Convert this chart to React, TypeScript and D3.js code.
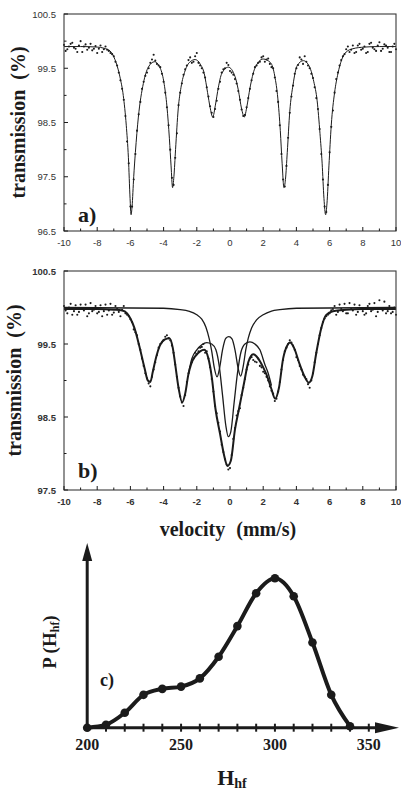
import * as d3 from 'd3'

// channel grid for the measured points (even and odd channels)
const VEL_START = -10
const VEL_MID_START = -9.9
const VEL_STEP = 0.2

const VEL_TICKS = [-10, -8, -6, -4, -2, 0, 2, 4, 6, 8, 10]
const VEL_MINOR = [-9, -7, -5, -3, -1, 1, 3, 5, 7, 9]

// a) sextet spectrum
const A_Y_TICKS = [96.5, 97.5, 98.5, 99.5, 100.5]
const A_Y_MINOR = [97, 98, 99, 100]
const A_FIT_V = [-10, -9, -8, -7.6, -7.23, -6.93, -6.63, -6.43, -6.25, -6.12, -6.02, -5.96, -5.9, -5.8, -5.7, -5.52, -5.22, -4.92, -4.55, -4.2, -3.96, -3.8, -3.65, -3.55, -3.46, -3.38, -3.28, -3.12, -2.95, -2.71, -2.4, -2.1, -1.8, -1.55, -1.35, -1.2, -1.04, -0.88, -0.7, -0.5, -0.1, 0.3, 0.5, 0.7, 0.86, 1.02, 1.2, 1.5, 2.0, 2.45, 2.7, 2.88, 3.03, 3.14, 3.25, 3.34, 3.45, 3.6, 3.8, 4.05, 4.42, 4.8, 5.05, 5.25, 5.42, 5.55, 5.66, 5.76, 5.84, 5.96, 6.1, 6.3, 6.5, 6.73, 7.0, 7.4, 8.1, 9, 10]
const A_FIT_T = [99.9, 99.9, 99.89, 99.87, 99.82, 99.66, 99.34, 99.0, 98.45, 97.85, 97.1, 96.8, 96.95, 97.5, 97.95, 98.6, 99.22, 99.52, 99.62, 99.5, 99.2, 98.8, 98.2, 97.7, 97.3, 97.5, 98.0, 98.75, 99.15, 99.45, 99.62, 99.66, 99.58, 99.4, 99.05, 98.78, 98.6, 98.82, 99.15, 99.4, 99.52, 99.35, 99.1, 98.75, 98.6, 98.8, 99.13, 99.5, 99.67, 99.6, 99.35, 98.95, 98.35, 97.75, 97.3, 97.45, 97.95, 98.7, 99.2, 99.55, 99.64, 99.52, 99.25, 98.9, 98.3, 97.75, 97.1, 96.8, 97.0, 97.7, 98.45, 99.05, 99.4, 99.66, 99.8, 99.86, 99.89, 99.9, 99.9]
const A_DOTS = [
  99.93, 99.85, 99.95, 99.88, 99.80, 100.00, 99.90, 99.84, 99.95, 99.86,
  99.78, 99.92, 99.85, 99.84, 99.78, 99.72, 99.55, 99.28, 98.92, 98.15,
  96.95, 97.45, 98.35, 98.88, 99.25, 99.42, 99.60, 99.75, 99.58, 99.52,
  99.25, 98.78, 98.0, 97.35, 98.3, 99.05, 99.38, 99.55, 99.70, 99.62,
  99.78, 99.55, 99.42, 99.15, 98.80, 98.60, 98.90, 99.25, 99.48, 99.60,
  99.45, 99.38, 99.22, 98.92, 98.62, 98.78, 99.12, 99.40, 99.55, 99.62,
  99.72, 99.66, 99.58, 99.50, 99.08, 98.45, 97.45, 97.70, 98.68, 99.18,
  99.50, 99.70, 99.58, 99.62, 99.50, 99.32, 98.95, 98.38, 97.45, 96.85,
  97.95, 98.72, 99.30, 99.55, 99.72, 99.85, 99.80, 99.92, 99.80, 99.95,
  99.86, 99.78, 99.95, 99.88, 99.82, 99.98, 99.86, 99.92, 99.80, 99.90,
  99.85
]
const A_DOTS_MID = [
  99.82, 99.90, 99.97, 99.86, 99.92, 99.80, 99.94, 99.88, 99.83, 99.91,
  99.86, 99.80, 99.90, 99.82, 99.76, 99.62, 99.42, 99.12, 98.62, 97.75,
  96.95, 97.92, 98.65, 99.12, 99.36, 99.50, 99.66, 99.64, 99.55, 99.40,
  99.05, 98.45, 97.48, 97.85, 98.82, 99.22, 99.48, 99.65, 99.60, 99.72,
  99.60, 99.50, 99.33, 98.98, 98.68, 98.75, 99.12, 99.42, 99.50, 99.56,
  99.42, 99.30, 99.08, 98.74, 98.64, 98.95, 99.28, 99.52, 99.60, 99.70,
  99.62, 99.68, 99.52, 99.33, 98.88, 97.92, 97.32, 98.22, 98.98, 99.40,
  99.56, 99.66, 99.72, 99.55, 99.40, 99.15, 98.75, 97.92, 96.95, 97.35,
  98.42, 99.05, 99.42, 99.65, 99.76, 99.90, 99.84, 99.78, 99.92, 99.84,
  99.90, 99.80, 99.97, 99.85, 99.92, 99.82, 99.94, 99.88, 99.80, 99.95
]

// b) distribution + doublet
const B_Y_TICKS = [97.5, 98.5, 99.5, 100.5]
const B_Y_MINOR = [98, 99, 100]
const B_FIT_V = [-10, -8, -7, -6.5, -6.2, -6.0, -5.76, -5.46, -5.15, -4.95, -4.8, -4.65, -4.45, -4.24, -3.95, -3.65, -3.45, -3.3, -3.1, -2.88, -2.7, -2.51, -2.3, -2.1, -1.8, -1.55, -1.3, -1.1, -0.88, -0.6, -0.35, -0.15, 0.05, 0.3, 0.55, 0.85, 1.1, 1.4, 1.7, 2.0, 2.2, 2.5, 2.72, 2.95, 3.2, 3.45, 3.62, 3.85, 4.2, 4.5, 4.75, 4.95, 5.2, 5.5, 5.8, 6.2, 7, 8, 10]
const B_FIT_T = [99.98, 99.98, 99.97, 99.96, 99.92, 99.85, 99.72, 99.47, 99.17, 99.0, 98.98, 99.12, 99.32, 99.47, 99.56, 99.58, 99.45, 99.22, 98.9, 98.7, 98.82, 99.08, 99.25, 99.33, 99.4, 99.42, 99.3, 99.05, 98.62, 98.27, 97.97, 97.83, 97.9, 98.33, 98.62, 98.97, 99.25, 99.36, 99.3, 99.18, 99.08, 98.88, 98.75, 98.9, 99.3, 99.48, 99.52, 99.45, 99.22, 99.05, 98.97, 99.05, 99.38, 99.72, 99.9, 99.95, 99.97, 99.98, 99.98]
const B_SEXTET_V = [-2.5, -2.3, -2.0, -1.7, -1.4, -1.1, -0.85, -0.65, -0.45, -0.25, -0.1, 0.05, 0.25, 0.45, 0.65, 0.9, 1.2, 1.5, 1.8, 2.1, 2.3, 2.5]
const B_SEXTET_T = [99.1, 99.3, 99.42, 99.49, 99.52, 99.5, 99.42, 99.2, 98.8, 98.38, 98.23, 98.3, 98.7, 99.1, 99.38, 99.5, 99.53, 99.5, 99.42, 99.22, 99.1, 98.93]
const B_DOUBLET_V = [-10, -4, -3, -2.5, -2.0, -1.7, -1.45, -1.25, -1.1, -0.95, -0.78, -0.62, -0.45, -0.25, -0.07, 0.12, 0.3, 0.48, 0.64, 0.8, 0.95, 1.1, 1.3, 1.6, 2.0, 2.5, 3.0, 4.0, 10]
const B_DOUBLET_T = [100.0, 99.99, 99.97, 99.95, 99.9, 99.84, 99.73, 99.57, 99.4, 99.18, 99.05, 99.18, 99.42, 99.58, 99.6, 99.57, 99.42, 99.18, 99.06, 99.2, 99.42, 99.58, 99.72, 99.83, 99.9, 99.95, 99.97, 99.99, 100.0]
const B_DOTS = [
  100.02, 99.92, 100.05, 99.95, 99.90, 100.04, 99.96, 99.88, 100.06, 99.97,
  99.92, 100.03, 99.95, 99.90, 100.05, 99.93, 99.98, 99.88, 100.02, 99.90,
  99.84, 99.70, 99.62, 99.42, 99.20, 99.03, 98.92, 99.15, 99.35, 99.50,
  99.55, 99.62, 99.55, 99.38, 99.05, 98.78, 98.65, 98.98, 99.18, 99.30,
  99.36, 99.45, 99.50, 99.40, 99.18, 98.85, 98.55, 98.30, 98.02, 97.85,
  97.80, 98.20, 98.52, 98.62, 98.90, 99.15, 99.30, 99.28, 99.25, 99.20,
  99.12, 99.05, 98.92, 98.82, 98.75, 98.98, 99.28, 99.45, 99.55, 99.48,
  99.32, 99.20, 99.08, 99.02, 98.90, 99.10, 99.38, 99.62, 99.80, 99.88,
  99.92, 99.98, 99.90, 100.04, 99.95, 99.92, 100.06, 99.96, 99.90, 100.03,
  99.95, 99.92, 100.05, 99.97, 99.88, 100.10, 99.96, 99.92, 100.02, 99.94,
  99.90
]
const B_DOTS_MID = [
  99.96, 100.00, 99.90, 100.03, 99.94, 99.98, 100.04, 99.92, 99.95, 100.02,
  99.94, 99.88, 100.04, 99.96, 99.90, 100.02, 99.94, 99.97, 99.92, 99.88,
  99.80, 99.66, 99.50, 99.30, 99.10, 98.96, 99.05, 99.25, 99.45, 99.52,
  99.60, 99.58, 99.48, 99.22, 98.90, 98.70, 98.80, 99.10, 99.25, 99.38,
  99.40, 99.46, 99.38, 99.30, 99.02, 98.65, 98.42, 98.12, 97.92, 97.78,
  97.98, 98.35, 98.58, 98.80, 99.02, 99.22, 99.32, 99.26, 99.30, 99.18,
  99.10, 99.00, 98.86, 98.72, 98.85, 99.15, 99.40, 99.50, 99.52, 99.42,
  99.28, 99.15, 99.05, 98.95, 99.00, 99.25, 99.50, 99.72, 99.85, 99.90,
  99.96, 100.02, 99.94, 99.98, 100.05, 99.92, 99.98, 100.04, 99.94, 99.98,
  99.90, 100.02, 99.95, 100.06, 99.94, 99.98, 100.08, 99.95, 99.92, 100.00
]

// c) hyperfine field distribution
const H_FIELD = [200, 210, 220, 230, 240, 250, 260, 270, 280, 290, 300, 310, 320, 330, 340]
const P_H = [0, 2, 10, 22, 26, 27.5, 33, 47.5, 68, 90, 100, 88, 57, 22, 1]
const H_LABELS = [200, 250, 300, 350]
const H_TICKS = [210, 220, 230, 240, 250, 260, 270, 280, 290, 300, 310, 320, 330, 340, 350]

const INK = '#1b1b1b'
const SERIF = '"Liberation Serif", "Times New Roman", serif'
const SANS = '"Liberation Sans", Arial, sans-serif'

const xVel = d3.scaleLinear().domain([-10, 10]).range([64, 396])

function pathOf(vs: number[], ts: number[], y: d3.ScaleLinear<number, number>) {
  return d3.line<number>()
    .x((_, i) => xVel(vs[i]))
    .y((_, i) => y(ts[i]))
    .curve(d3.curveMonotoneX)(vs) || ''
}

function Spectrum({ top, bottom, yDomain, yTicks, yMinor, dots, dotsMid, boldTicks, tag, tagY, titleX, children }: any) {
  const y = d3.scaleLinear().domain(yDomain).range([bottom, top])
  const x0 = xVel.range()[0]
  const x1 = xVel.range()[1]
  return (
    <g>
      {children(y)}
      {dots.map((t: number, i: number) => (
        <circle key={'e' + i} cx={xVel(VEL_START + i * VEL_STEP)} cy={y(t)} r={1.05} fill={INK} />
      ))}
      {dotsMid.map((t: number, i: number) => (
        <circle key={'o' + i} cx={xVel(VEL_MID_START + i * VEL_STEP)} cy={y(t)} r={1.05} fill={INK} />
      ))}
      <rect x={x0} y={top} width={x1 - x0} height={bottom - top} fill="none" stroke="#3a3a3a" strokeWidth={1.1} />
      {VEL_TICKS.map(v => (
        <g key={v}>
          <line x1={xVel(v)} x2={xVel(v)} y1={bottom} y2={bottom - 4} stroke={INK} />
          <text x={xVel(v)} y={bottom + 15} textAnchor="middle" fontFamily={SANS} fontSize={9.5}
            fontWeight={boldTicks ? 700 : 400} fill="#333">{v}</text>
        </g>
      ))}
      {VEL_MINOR.map(v => (
        <line key={v} x1={xVel(v)} x2={xVel(v)} y1={bottom} y2={bottom - 2.5} stroke={INK} />
      ))}
      {yTicks.map((t: number) => (
        <g key={t}>
          <line x1={x0} x2={x0 + 4} y1={y(t)} y2={y(t)} stroke={INK} />
          <text x={x0 - 8} y={y(t) + 3.5} textAnchor="end" fontFamily={SANS} fontSize={9.5}
            fontWeight={boldTicks ? 700 : 400} fill="#333">{t.toFixed(1)}</text>
        </g>
      ))}
      {yMinor.map((t: number) => (
        <line key={t} x1={x0} x2={x0 + 2.5} y1={y(t)} y2={y(t)} stroke={INK} />
      ))}
      <text x={78} y={tagY} fontFamily={SERIF} fontWeight={700} fontSize={22} fill={INK}>{tag}</text>
      <text transform={`translate(${titleX},${(top + bottom) / 2}) rotate(-90)`} textAnchor="middle"
        fontFamily={SERIF} fontWeight={700} fontSize={20} wordSpacing={5} fill={INK}>transmission (%)</text>
    </g>
  )
}

function Distribution() {
  const x = d3.scaleLinear().domain([200, 350]).range([87.2, 368.8])
  const y = d3.scaleLinear().domain([0, 100]).range([727.7, 578.3])
  const path = d3.line<number>()
    .x((_, i) => x(H_FIELD[i]))
    .y((_, i) => y(P_H[i]))
    .curve(d3.curveMonotoneX)(H_FIELD) || ''
  const ox = x(200)
  const oy = y(0)
  return (
    <g>
      <line x1={ox} x2={ox} y1={oy + 1.5} y2={550} stroke={INK} strokeWidth={3} />
      <polygon points={`${ox},543 ${ox - 5},561 ${ox + 5},561`} fill={INK} />
      <line x1={ox - 1.5} x2={385} y1={oy} y2={oy} stroke={INK} strokeWidth={3} />
      <polygon points={`399,${oy} 375,${oy - 5.5} 375,${oy + 5.5}`} fill={INK} />
      {H_TICKS.map(h => (
        <line key={h} x1={x(h)} x2={x(h)} y1={oy - 4} y2={oy + 4} stroke={INK} strokeWidth={2} />
      ))}
      <path d={path} fill="none" stroke={INK} strokeWidth={4} strokeLinejoin="round" />
      {H_FIELD.map((h, i) => (
        <circle key={h} cx={x(h)} cy={y(P_H[i])} r={4.3} fill={INK} />
      ))}
      {H_LABELS.map(h => (
        <text key={h} x={x(h)} y={750} textAnchor="middle" fontFamily={SERIF} fontWeight={700} fontSize={16} fill={INK}>{h}</text>
      ))}
      <text x={232} y={785} textAnchor="middle" fontFamily={SERIF} fontWeight={700} fontSize={22} fill={INK}>
        H<tspan fontSize={14} dy={3}>hf</tspan>
      </text>
      <text transform={`translate(56,642) rotate(-90)`} textAnchor="middle" fontFamily={SERIF} fontWeight={700}
        fontSize={19} fill={INK}>
        P (H<tspan fontSize={12} dy={3}>hf</tspan><tspan dy={-3}>)</tspan>
      </text>
      <text x={100} y={686} fontFamily={SERIF} fontWeight={700} fontSize={18} fill={INK}>c)</text>
    </g>
  )
}

export default function App() {
  return (
    <svg width={401} height={793} style={{ position: 'absolute', left: 0, top: 0, background: '#fff' }}>
      <Spectrum top={14} bottom={231} yDomain={[96.5, 100.5]} yTicks={A_Y_TICKS} yMinor={A_Y_MINOR}
        dots={A_DOTS} dotsMid={A_DOTS_MID} boldTicks={false} tag="a)" tagY={222} titleX={25}>
        {(y: any) => (
          <path d={pathOf(A_FIT_V, A_FIT_T, y)} fill="none" stroke={INK} strokeWidth={1} />
        )}
      </Spectrum>
      <Spectrum top={271} bottom={490} yDomain={[97.5, 100.5]} yTicks={B_Y_TICKS} yMinor={B_Y_MINOR}
        dots={B_DOTS} dotsMid={B_DOTS_MID} boldTicks={true} tag="b)" tagY={478} titleX={21}>
        {(y: any) => (
          <g fill="none" stroke={INK}>
            <path d={pathOf(B_DOUBLET_V, B_DOUBLET_T, y)} strokeWidth={1.3} />
            <path d={pathOf(B_SEXTET_V, B_SEXTET_T, y)} strokeWidth={1.3} />
            <path d={pathOf(B_FIT_V, B_FIT_T, y)} strokeWidth={2} />
          </g>
        )}
      </Spectrum>
      <text x={228} y={536} textAnchor="middle" fontFamily={SERIF} fontWeight={700} fontSize={20}
        wordSpacing={6} fill={INK}>velocity (mm/s)</text>
      <Distribution />
    </svg>
  )
}
